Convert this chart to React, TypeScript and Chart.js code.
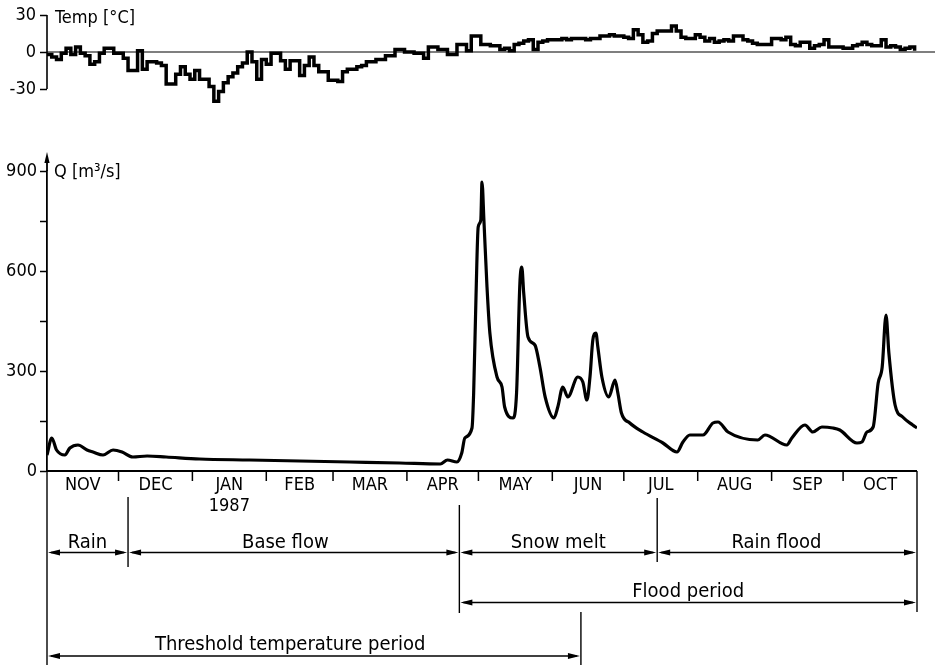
import React, { useEffect, useRef } from 'react';
import { Chart, registerables } from 'chart.js';

Chart.register(...registerables);

const FONT = "'DejaVu Sans Condensed', 'Liberation Sans Narrow', 'DejaVu Sans', sans-serif";

// ---- axis / calendar data ----
const monthLabels = ['NOV', 'DEC', 'JAN', 'FEB', 'MAR', 'APR', 'MAY', 'JUN', 'JUL', 'AUG', 'SEP', 'OCT'];
const monthStartDays = [0, 30, 61, 92, 120, 151, 181, 212, 242, 273, 304, 334, 365];
const yearLabel = '1987';
const yearMonthIndex = 2;

// ---- temperature (daily steps, every 2 days from 1 Nov 1986) ----
const tempTicks = [-30, 0, 30];
const tempStepDays = 2;
const tempValues = [
  -2, -4, -6, -1, 3, -2, 4, -1, -3, -10,
  -8, -1, 3, 3, -1, -1, -5, -15, -15, 1,
  -14, -8, -8, -9, -11, -26, -26, -18, -12, -18,
  -22, -15, -22, -22, -28, -40, -32, -25, -20, -17,
  -12, -9, 0, -8, -22, -6, -10, -1, -1, -7,
  -14, -7, -7, -19, -11, -4, -11, -16, -16, -23,
  -23, -24, -16, -14, -14, -12, -11, -8, -8, -6,
  -6, -3, -3, 2, 2, 0, 0, -1, -1, -5,
  4, 4, 2, 2, -2, -2, 6, 6, 1, 13,
  13, 6, 6, 5, 5, 2, 3, 1, 6, 7,
  9, 10, 2, 8, 9, 10, 10, 10, 11, 10,
  11, 11, 11, 10, 11, 11, 13, 13, 14, 13,
  13, 12, 11, 18, 14, 8, 9, 15, 17, 17,
  17, 21, 17, 12, 11, 11, 14, 12, 9, 11,
  8, 9, 10, 9, 13, 13, 10, 9, 7, 6,
  6, 6, 11, 11, 10, 12, 6, 5, 8, 8,
  3, 5, 6, 10, 4, 4, 4, 3, 3, 5,
  6, 8, 6, 5, 5, 10, 4, 5, 4, 2,
  3, 4, 1,
];

// ---- discharge ----
const qTickValues = [0, 150, 300, 450, 600, 750, 900];
const qLabelTicks = [0, 300, 600, 900];
const qDays = [
  0, 2, 4, 7.5, 9.6, 13, 16.8, 19.3, 23.5, 27.7,
  31.5, 36, 42, 50, 64, 85, 106, 127, 148, 165,
  168, 172, 174, 175.3, 178.3, 179, 180, 180.9, 182, 182.5,
  183.3, 184.6, 185.8, 188.8, 190.9, 192, 195.5, 197, 198.4, 199.2,
  200, 201.8, 204.7, 206.8, 209, 212.7, 214.3, 216.4, 218.5, 222.7,
  224.8, 226.5, 227.8, 229, 230.3, 231.1, 232.8, 235.7, 238.3, 239.5,
  241, 244.5, 250, 258.4, 264.3, 266.8, 269.7, 275.2, 279.4, 281.5,
  285.7, 298.2, 301.2, 310.4, 312.5, 318, 321.3, 325.1, 329.7, 332.6,
  339.8, 341.9, 344, 346.6, 348.7, 350.4, 352, 353.2, 355.8, 359,
  363.2, 365,
];
const qValues = [
  48, 99, 63, 48, 69, 78, 63, 57, 48, 63,
  57, 42, 45, 42, 36, 33, 30, 27, 24, 21,
  33, 27, 54, 99, 129, 234, 528, 732, 753, 867,
  753, 552, 414, 282, 252, 192, 159, 234, 564, 612,
  534, 402, 378, 312, 222, 159, 192, 252, 222, 282,
  267, 213, 282, 393, 414, 372, 282, 222, 273, 234,
  174, 144, 117, 84, 57, 87, 108, 108, 144, 147,
  117, 93, 108, 78, 99, 138, 117, 132, 129, 123,
  84, 87, 117, 132, 264, 312, 468, 354, 198, 162,
  138, 129,
];

// ---- periods ----
const periodLabels = ['Rain', 'Base flow', 'Snow melt', 'Rain flood', 'Flood period', 'Threshold temperature period'];
const periodStart = [0, 34, 173, 256, 173, 0];
const periodEnd = [34, 173, 256, 365, 365, 224];
const periodRow = [0, 0, 0, 0, 1, 2];
const periodLabelDay = [17, 100, 214.5, 306, 269, 102];

function arrowHead(ctx: CanvasRenderingContext2D, x: number, y: number, dx: number, dy: number, L = 12, W = 3) {
  ctx.beginPath();
  ctx.moveTo(x, y);
  ctx.lineTo(x - dx * L - dy * W, y - dy * L + dx * W);
  ctx.lineTo(x - dx * L + dy * W, y - dy * L - dx * W);
  ctx.closePath();
  ctx.fill();
}

function line(ctx: CanvasRenderingContext2D, x1: number, y1: number, x2: number, y2: number) {
  ctx.beginPath();
  ctx.moveTo(x1, y1);
  ctx.lineTo(x2, y2);
  ctx.stroke();
}

const tempDecor = {
  id: 'tempDecor',
  afterDraw(chart: any) {
    const ctx: CanvasRenderingContext2D = chart.ctx;
    const xs = chart.scales.x;
    const ys = chart.scales.y;
    const left = xs.getPixelForValue(0);
    const right = xs.getPixelForValue(365);
    ctx.save();
    ctx.strokeStyle = '#000';
    ctx.fillStyle = '#000';
    ctx.lineWidth = 1.6;
    line(ctx, left, ys.getPixelForValue(30), left, ys.getPixelForValue(-30));
    ctx.lineWidth = 1.2;
    line(ctx, left, ys.getPixelForValue(0), right + 18, ys.getPixelForValue(0));
    ctx.font = `18px ${FONT}`;
    ctx.textAlign = 'left';
    ctx.textBaseline = 'alphabetic';
    ctx.fillText('Temp [°C]', left + 8, ys.getPixelForValue(30) + 8);
    ctx.restore();
  },
};

const qDecor = {
  id: 'qDecor',
  afterDraw(chart: any) {
    const ctx: CanvasRenderingContext2D = chart.ctx;
    const xs = chart.scales.x;
    const ys = chart.scales.y;
    const y0 = ys.getPixelForValue(0);
    const left = xs.getPixelForValue(0);
    const right = xs.getPixelForValue(365);
    const top = ys.getPixelForValue(900);
    ctx.save();
    ctx.strokeStyle = '#000';
    ctx.fillStyle = '#000';
    // x axis
    ctx.lineWidth = 1.8;
    line(ctx, left, y0, right, y0);
    // y axis arrow
    line(ctx, left, top, left, top - 10);
    arrowHead(ctx, left, top - 19, 0, -1, 11, 2.6);
    // month ticks
    ctx.lineWidth = 1.5;
    for (let i = 1; i < monthStartDays.length - 1; i++) {
      const x = xs.getPixelForValue(monthStartDays[i]);
      line(ctx, x, y0, x, y0 + 10);
    }
    // month labels
    ctx.font = `18px ${FONT}`;
    ctx.textAlign = 'center';
    ctx.textBaseline = 'alphabetic';
    for (let i = 0; i < monthLabels.length; i++) {
      const cx = xs.getPixelForValue((monthStartDays[i] + monthStartDays[i + 1]) / 2);
      ctx.fillText(monthLabels[i], cx, y0 + 19);
    }
    const jx = xs.getPixelForValue((monthStartDays[yearMonthIndex] + monthStartDays[yearMonthIndex + 1]) / 2);
    ctx.fillText(yearLabel, jx, y0 + 40);
    // y title
    ctx.textAlign = 'left';
    ctx.fillText('Q [m³/s]', left + 7, top + 6);

    // boundary lines
    ctx.lineWidth = 1.4;
    const bounds: [number, number, number][] = [
      [0, 0, 194],
      [34, 26, 96],
      [173, 34, 142],
      [256, 27, 91],
      [365, 0, 141],
      [224, 141, 194],
    ];
    for (const [d, t, b] of bounds) {
      const x = xs.getPixelForValue(d);
      line(ctx, x, y0 + t, x, y0 + b);
    }
    // period arrows
    const rowY = [81.5, 131.5, 185];
    const labelY = [77, 126, 179];
    ctx.lineWidth = 1.3;
    ctx.textAlign = 'center';
    ctx.font = `20px ${FONT}`;
    for (let i = 0; i < periodLabels.length; i++) {
      const x1 = xs.getPixelForValue(periodStart[i]);
      const x2 = xs.getPixelForValue(periodEnd[i]);
      const y = y0 + rowY[periodRow[i]];
      line(ctx, x1 + 4, y, x2 - 4, y);
      arrowHead(ctx, x1 + 1, y, -1, 0);
      arrowHead(ctx, x2 - 1, y, 1, 0);
      ctx.fillText(periodLabels[i], xs.getPixelForValue(periodLabelDay[i]), y0 + labelY[periodRow[i]]);
    }
    ctx.restore();
  },
};

export default function App() {
  const refA = useRef<HTMLCanvasElement>(null);
  const refB = useRef<HTMLCanvasElement>(null);

  useEffect(() => {
    const tempData = tempValues.map((v, i) => ({ x: i * tempStepDays, y: v }));
    const qData = qDays.map((d, i) => ({ x: d, y: qValues[i] }));

    const a = new Chart(refA.current!, {
      type: 'line',
      data: {
        datasets: [
          {
            data: tempData,
            borderColor: '#000',
            borderWidth: 3.5,
            pointRadius: 0,
            stepped: true,
            fill: false,
          },
        ],
      },
      options: {
        responsive: false,
        animation: false,
        events: [],
        layout: { padding: { left: 0, right: 20, top: 15, bottom: 32.5 } },
        plugins: { legend: { display: false }, tooltip: { enabled: false }, title: { display: false } },
        scales: {
          x: { type: 'linear', display: false, min: 0, max: 365 },
          y: {
            type: 'linear',
            min: -45,
            max: 30,
            afterFit: (s: any) => {
              s.width = 47;
            },
            afterBuildTicks: (s: any) => {
              s.ticks = tempTicks.map((v) => ({ value: v }));
            },
            ticks: {
              color: '#000',
              font: { family: FONT, size: 18 },
              padding: 4,
              callback: (v: any) => String(v),
            },
            grid: { drawOnChartArea: false, drawTicks: true, tickLength: 7, tickWidth: 1.5, tickColor: '#000' },
            border: { display: false },
          },
        },
      },
      plugins: [tempDecor],
    });

    const b = new Chart(refB.current!, {
      type: 'line',
      data: {
        datasets: [
          {
            data: qData,
            borderColor: '#000',
            borderWidth: 3.2,
            pointRadius: 0,
            cubicInterpolationMode: 'monotone',
            fill: false,
          },
        ],
      },
      options: {
        responsive: false,
        animation: false,
        events: [],
        layout: { padding: { left: 0, right: 20, top: 171, bottom: 194 } },
        plugins: { legend: { display: false }, tooltip: { enabled: false }, title: { display: false } },
        scales: {
          x: { type: 'linear', display: false, min: 0, max: 365 },
          y: {
            type: 'linear',
            min: 0,
            max: 900,
            afterFit: (s: any) => {
              s.width = 47;
            },
            afterBuildTicks: (s: any) => {
              s.ticks = qTickValues.map((v) => ({ value: v }));
            },
            ticks: {
              color: '#000',
              font: { family: FONT, size: 18 },
              padding: 3,
              callback: (v: any) => (qLabelTicks.includes(v) ? String(v) : ''),
            },
            grid: { drawOnChartArea: false, drawTicks: true, tickLength: 7, tickWidth: 1.5, tickColor: '#000' },
            border: { display: true, color: '#000', width: 1.8 },
          },
        },
      },
      plugins: [qDecor],
    });

    return () => {
      a.destroy();
      b.destroy();
    };
  }, []);

  return (
    <div style={{ position: 'fixed', left: 0, top: 0, width: 937, height: 665, background: '#fff' }}>
      <canvas ref={refB} width={937} height={665} style={{ position: 'absolute', left: 0, top: 0 }} />
      <canvas ref={refA} width={937} height={140} style={{ position: 'absolute', left: 0, top: 0 }} />
    </div>
  );
}
